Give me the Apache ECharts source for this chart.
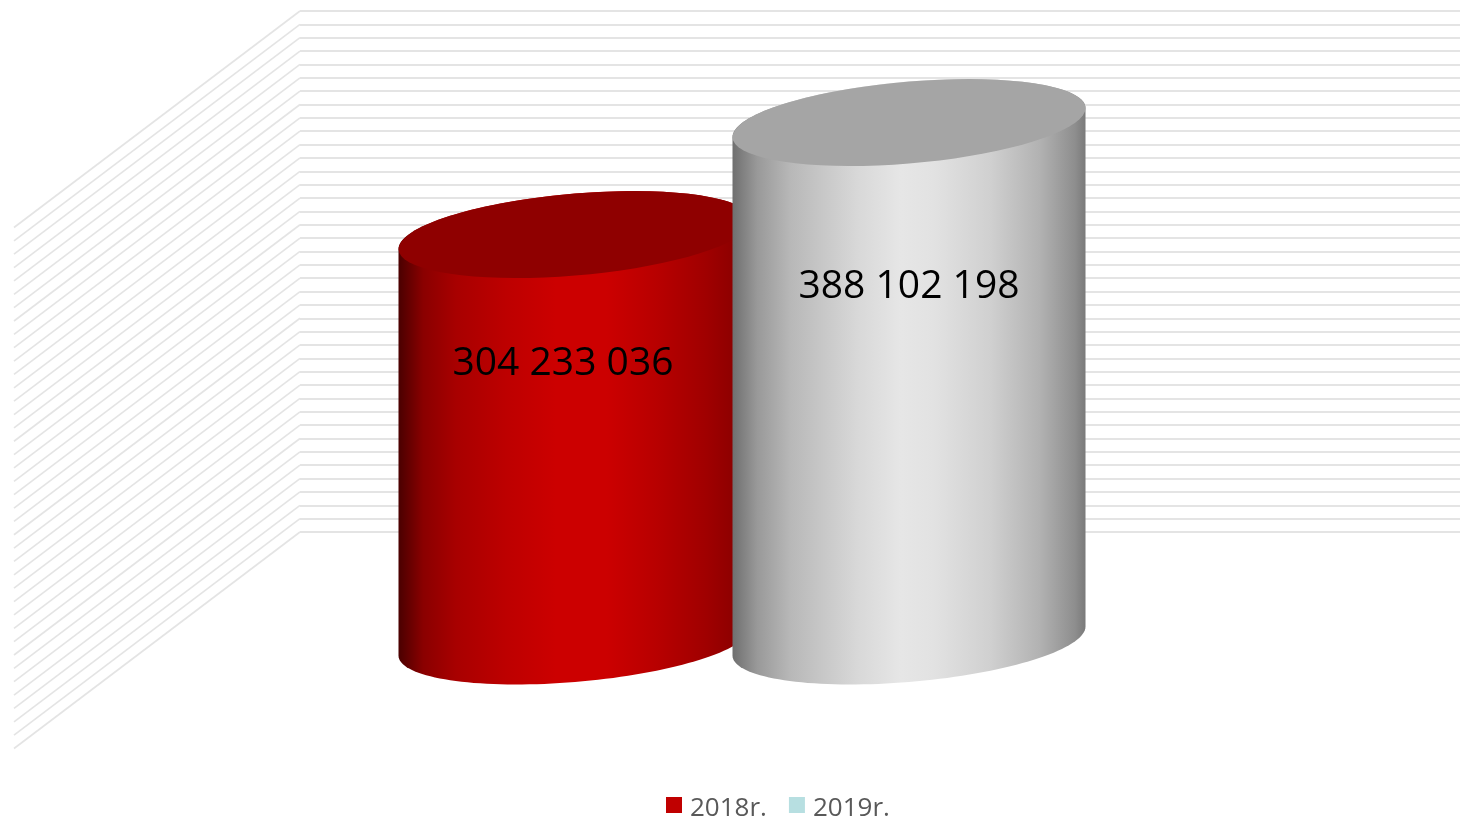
<!DOCTYPE html>
<html>
<head>
<meta charset="utf-8">
<title>2018r. 2019r.</title>
<script src="https://cdn.jsdelivr.net/npm/echarts@6/dist/echarts.min.js"></script>
<style>
html, body { margin: 0; padding: 0; background: #fff; }
#main { width: 1460px; height: 821px; }
</style>
</head>
<body>
<div id="main"></div>
<script>
// data
var categories = ['']
var seriesNames = ['2018r.', '2019r.']
var values2018 = [304233036]
var values2019 = [388102198]
var gridTicks = [
    0, 10e6, 20e6, 30e6, 40e6, 50e6, 60e6, 70e6, 80e6, 90e6,
    100e6, 110e6, 120e6, 130e6, 140e6, 150e6, 160e6, 170e6, 180e6, 190e6,
    200e6, 210e6, 220e6, 230e6, 240e6, 250e6, 260e6, 270e6, 280e6, 290e6,
    300e6, 310e6, 320e6, 330e6, 340e6, 350e6, 360e6, 370e6, 380e6, 390e6
]

// the fake 3d: how far the floor comes forward from the back wall
var FLOOR_DX = -286, FLOOR_DY = 216.5
var DEPTH_DX = -138, DEPTH_DY = 109
var RADIUS = 176.5, TILT = 0.082, MINOR = 41

var redSide = [
    { offset: 0, color: '#4a0000' }, { offset: 0.07, color: '#8a0000' }, { offset: 0.163, color: '#a80000' },
    { offset: 0.305, color: '#bd0000' }, { offset: 0.447, color: '#cc0000' }, { offset: 0.588, color: '#cc0000' },
    { offset: 0.73, color: '#b80000' }, { offset: 0.87, color: '#a00000' }, { offset: 0.94, color: '#900000' },
    { offset: 1, color: '#7a0000' }
]
var greySide = [
    { offset: 0, color: '#6f6f6f' }, { offset: 0.07, color: '#999999' }, { offset: 0.165, color: '#b8b8b8' },
    { offset: 0.354, color: '#d8d8d8' }, { offset: 0.477, color: '#e6e6e6' }, { offset: 0.57, color: '#e2e2e2' },
    { offset: 0.73, color: '#d0d0d0' }, { offset: 0.87, color: '#b2b2b2' }, { offset: 0.97, color: '#8e8e8e' },
    { offset: 1, color: '#7a7a7a' }
]

function formatValue(v) {
    return String(v).replace(/\B(?=(\d{3})+$)/g, ' ')
}

// a sheared ellipse, from angle t0 to t1
function ellipse(cx, cy, t0, t1) {
    var pts = []
    for (var i = 0; i <= 72; i++) {
        var t = t0 + (t1 - t0) * i / 72
        var dx = RADIUS * Math.cos(t)
        pts.push([cx + dx, cy - TILT * dx + MINOR * Math.sin(t)])
    }
    return pts
}

function cylinder(offsetX, sideStops, topColor, labelDx) {
    return function (params, api) {
        var top = api.coord([api.value(0), api.value(1)])
        var base = api.coord([api.value(0), 0])
        var cx = top[0] + DEPTH_DX + offsetX
        var topY = top[1] + DEPTH_DY
        var baseY = base[1] + DEPTH_DY
        var side = ellipse(cx, topY, Math.PI, Math.PI * 2).concat(ellipse(cx, baseY, 0, Math.PI))
        return {
            type: 'group',
            children: [{
                type: 'polygon',
                shape: { points: side },
                style: { fill: new echarts.graphic.LinearGradient(0, 0, 1, 0, sideStops) }
            }, {
                type: 'polygon',
                shape: { points: ellipse(cx, topY, 0, Math.PI * 2) },
                style: { fill: topColor }
            }, {
                type: 'text',
                x: cx + labelDx,
                y: topY + (baseY - topY) * 0.31 + 3.5,
                style: {
                    text: formatValue(api.value(1)),
                    fill: '#000',
                    font: '39px "Open Sans"',
                    align: 'center',
                    verticalAlign: 'middle'
                }
            }]
        }
    }
}

var myChart = echarts.init(document.getElementById('main'))

var option = {
    animation: false,
    backgroundColor: '#fff',
    grid: { left: 300, right: 0, top: 11, height: 521 },
    legend: {
        data: seriesNames,
        left: 661,
        top: 791,
        itemWidth: 16,
        itemHeight: 24,
        itemGap: 22,
        // square sits in the top of the item so the text hangs lower than it
        icon: 'path://M0 0H16V16H0Z M0 24L0 24',
        textStyle: { color: '#595959', fontFamily: 'Open Sans', fontSize: 26, padding: [0, 0, 0, 3] }
    },
    xAxis: {
        type: 'category',
        data: categories,
        axisLine: { show: false },
        axisTick: { show: false },
        axisLabel: { show: false }
    },
    yAxis: {
        type: 'value',
        min: 0,
        max: 390000000,
        interval: 10000000,
        axisLine: { show: false },
        axisTick: { show: false },
        axisLabel: { show: false },
        splitLine: { show: true, lineStyle: { color: '#e4e4e4', width: 2 } }
    },
    series: [{
        // diagonal part of every gridline, over the side wall and floor
        type: 'custom',
        name: 'walls',
        silent: true,
        data: gridTicks.map(function (t) { return [0, t] }),
        renderItem: function (params, api) {
            var p = api.coord([0, api.value(1)])
            var x = params.coordSys.x
            return {
                type: 'line',
                shape: { x1: x, y1: p[1], x2: x + FLOOR_DX, y2: p[1] + FLOOR_DY },
                style: { stroke: '#e4e4e4', lineWidth: 1.6 }
            }
        }
    }, {
        type: 'custom',
        name: seriesNames[0],
        itemStyle: { color: '#c00000' },
        data: values2018.map(function (v, i) { return [i, v] }),
        renderItem: cylinder(-167, redSide, '#8f0000', -12)
    }, {
        type: 'custom',
        name: seriesNames[1],
        // legend swatch stays light blue, the cylinder itself is grey
        itemStyle: { color: '#b7dfe1' },
        data: values2019.map(function (v, i) { return [i, v] }),
        renderItem: cylinder(167, greySide, '#a5a5a5', 0)
    }]
}

myChart.setOption(option)
</script>
</body>
</html>
